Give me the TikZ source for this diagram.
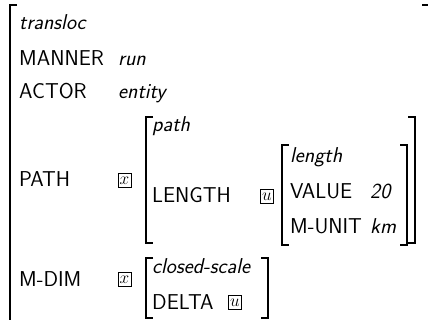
\documentclass[tikz,border=0pt]{standalone}
\usepackage{fontspec}
\usetikzlibrary{positioning}
\tikzset{
  feat/.style={anchor=base west, inner sep=0pt, font=\sffamily\fontsize{21.5}{26}\selectfont},
  typ/.style={feat, font=\sffamily\itshape\fontsize{21.5}{26}\selectfont},
  tagbox/.style={draw, line width=0.6pt, inner sep=0pt, minimum width=13pt, minimum height=13.5pt, font=\fontsize{16}{16}\selectfont},
  brk/.style={line width=1.4pt}
}
% left and right brackets: (x, top, bottom)
\def\lbrk[#1](#2,#3,#4){\draw[brk,#1] (#2+7,#3) -- (#2,#3) -- (#2,#4) -- (#2+7,#4);}
\def\rbrk[#1](#2,#3,#4){\draw[brk,#1] (#2-7,#3) -- (#2,#3) -- (#2,#4) -- (#2-7,#4);}

\begin{document}
\begin{tikzpicture}[x=1pt, y=-1pt]
	%%%%% START %%%%%
	\useasboundingbox (0,0) rectangle (428,320);
	
	% outer structure
	\lbrk[line width=1.8pt](10,5,330)
	\rbrk[line width=1.8pt](429,5,330)
	\node[typ] (transloc) at (19,30) {transloc};
	\node[feat] (manner) at (19,66) {MANNER};
	\node[typ] (run) at (118,66) {run};
	\node[feat] (actor) at (19,99) {ACTOR};
	\node[typ] (entity) at (118,99) {entity};
	
	% PATH value
	\node[feat] (pathf) at (19,187) {PATH};
	\node[tagbox] (tagx) at (124.5,180.5) {$x$};
	\lbrk[](146,117,243)
	\rbrk[](415,117,243)
	\node[typ] (path) at (152,132) {path};
	\node[feat] (lengthf) at (152,203) {LENGTH};
	\node[tagbox] (tagu) at (267,196.5) {$u$};
	
	% LENGTH value
	\lbrk[](282,145,245)
	\rbrk[](407,145,245)
	\node[typ] (length) at (290,163) {length};
	\node[feat] (value) at (290,199) {VALUE};
	\node[typ] (twenty) at (370,199) {20};
	\node[feat] (munit) at (290,234) {M-UNIT};
	\node[typ] (km) at (370,234) {km};
	
	% M-DIM value
	\node[feat] (mdim) at (19,286) {M-DIM};
	\node[tagbox] (tagx2) at (124.5,279.5) {$x$};
	\lbrk[](146,258,318)
	\rbrk[](268,258,318)
	\node[typ] (closed) at (152,273) {closed-scale};
	\node[feat] (delta) at (152,309) {DELTA};
	\node[tagbox] (tagu2) at (235,302.5) {$u$};
	
	%%%%% END %%%%%
\end{tikzpicture}
\end{document}
